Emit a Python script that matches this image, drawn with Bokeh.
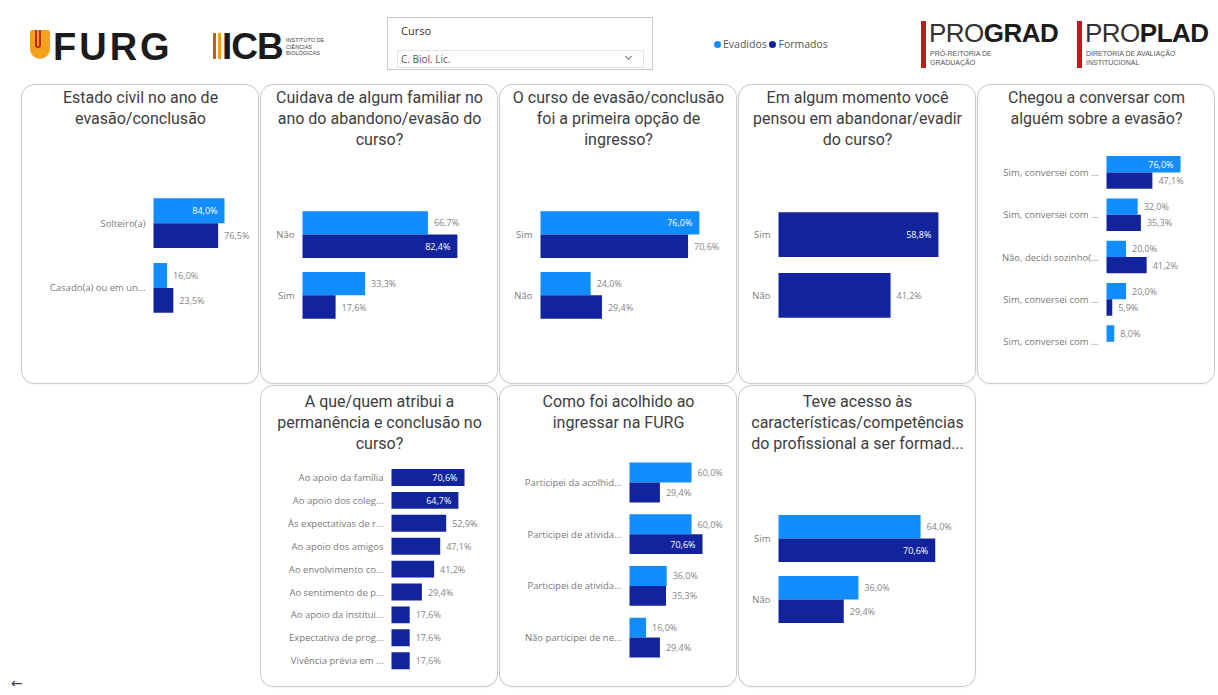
from bokeh.plotting import figure
from bokeh.models import Range1d, Div, Spacer, Title
from bokeh.layouts import row, column
from bokeh.core.properties import value
from bokeh.embed import file_html
from bokeh.resources import INLINE

# ---------------- data ----------------
series_names = ["Evadidos", "Formados"]

p1_title = ["Estado civil no ano de", "evasão/conclusão"]
p1_cats = ["Solteiro(a)", "Casado(a) ou em un..."]
p1_evadidos = [84.0, 16.0]
p1_formados = [76.5, 23.5]

p2_title = ["Cuidava de algum familiar no", "ano do abandono/evasão do", "curso?"]
p2_cats = ["Não", "Sim"]
p2_evadidos = [66.7, 33.3]
p2_formados = [82.4, 17.6]

p3_title = ["O curso de evasão/conclusão", "foi a primeira opção de", "ingresso?"]
p3_cats = ["Sim", "Não"]
p3_evadidos = [76.0, 24.0]
p3_formados = [70.6, 29.4]

p4_title = ["Em algum momento você", "pensou em abandonar/evadir", "do curso?"]
p4_cats = ["Sim", "Não"]
p4_evadidos = None
p4_formados = [58.8, 41.2]

p5_title = ["Chegou a conversar com", "alguém sobre a evasão?"]
p5_cats = ["Sim, conversei com ...", "Sim, conversei com ...", "Não, decidi sozinho(...",
           "Sim, conversei com ...", "Sim, conversei com ..."]
p5_evadidos = [76.0, 32.0, 20.0, 20.0, 8.0]
p5_formados = [47.1, 35.3, 41.2, 5.9, None]

p6_title = ["A que/quem atribui a", "permanência e conclusão no", "curso?"]
p6_cats = ["Ao apoio da família", "Ao apoio dos coleg...", "Às expectativas de r...",
           "Ao apoio dos amigos", "Ao envolvimento co...", "Ao sentimento de p...",
           "Ao apoio da institui...", "Expectativa de prog...", "Vivência prévia em ..."]
p6_evadidos = None
p6_formados = [70.6, 64.7, 52.9, 47.1, 41.2, 29.4, 17.6, 17.6, 17.6]

p7_title = ["Como foi acolhido ao", "ingressar na FURG"]
p7_cats = ["Participei da acolhid...", "Participei de ativida...", "Participei de ativida...",
           "Não participei de ne..."]
p7_evadidos = [60.0, 60.0, 36.0, 16.0]
p7_formados = [29.4, 70.6, 35.3, 29.4]

p8_title = ["Teve acesso às", "características/competências", "do profissional a ser formad..."]
p8_cats = ["Sim", "Não"]
p8_evadidos = [64.0, 36.0]
p8_formados = [70.6, 29.4]

# ---------------- style ----------------
EVA = "#118DFF"
FOR = "#12239E"
PANEL_W = 236
GAP = 3
TOP_H = 298
BOT_H = 300


def fmt(v):
    return f"{v:.1f}".replace(".", ",") + "%"


def make_panel(title_lines, cats, eva, form, h, top_px, left_px, ppp, c1, band, inside_ratio=0.95):
    bottom_px = 6
    w = PANEL_W
    # the frame spans the whole panel width; bars start left_px from the panel edge
    x_start = -left_px / ppp
    x_end = (w - left_px) / ppp
    y_top = -(c1 - top_px) / band
    y_bot = (h - bottom_px - c1) / band
    p = figure(width=w, height=h, output_backend="svg", toolbar_location=None, title=None,
               x_range=Range1d(x_start, x_end), y_range=Range1d(y_bot, y_top),
               min_border_left=0, min_border_right=0,
               min_border_top=top_px, min_border_bottom=bottom_px)
    p.background_fill_color = "white"
    p.border_fill_color = "white"
    p.outline_line_color = None
    p.xgrid.visible = False
    p.ygrid.visible = False
    p.xaxis.visible = False
    p.yaxis.visible = False

    # title: one centred Title per line, padded to three lines
    lines = list(title_lines) + [" "] * (3 - len(title_lines))
    for line in reversed(lines):
        p.add_layout(Title(text=line, align="center", text_font="Roboto",
                           text_font_size="16px", text_font_style="normal",
                           text_color="#3d3d3d", standoff=0, offset=0), "above")

    # category labels, placed through the y scale just left of the bars
    p.text(x=[-8 / ppp] * len(cats), y=list(range(len(cats))), text=cats,
           text_align="right", text_baseline="middle", text_color="#7a7a7a",
           text_font=value("Open Sans"), text_font_size="9.5px")

    series = [(s, c) for s, c in ((eva, EVA), (form, FOR)) if s is not None]
    n_s = len(series)
    bar_h = 0.385 if n_s == 2 else 0.74
    vmax = max(v for s, _ in series for v in s if v is not None)
    for k, (vals, color) in enumerate(series):
        off = (k - (n_s - 1) / 2) * bar_h
        ys = [i + off for i, v in enumerate(vals) if v is not None]
        vs = [v for v in vals if v is not None]
        p.hbar(y=ys, left=0, right=vs, height=bar_h, fill_color=color, line_color=None)
        ins = [(y, v) for y, v in zip(ys, vs) if v >= inside_ratio * vmax]
        outs = [(y, v) for y, v in zip(ys, vs) if v < inside_ratio * vmax]
        if ins:
            p.text(x=[v - 7 / ppp for _, v in ins], y=[y for y, _ in ins],
                   text=[fmt(v) for _, v in ins], text_align="right", text_baseline="middle",
                   text_color="white", text_font=value("Open Sans"), text_font_size="9px")
        if outs:
            p.text(x=[v + 6 / ppp for _, v in outs], y=[y for y, _ in outs],
                   text=[fmt(v) for _, v in outs], text_align="left", text_baseline="middle",
                   text_color="#858585", text_font=value("Open Sans"), text_font_size="9px")
    p.styles = {"border-radius": "13px", "overflow": "hidden",
                "box-shadow": "0 0 0 1px #c9c9c9, 0 1px 3px rgba(0,0,0,0.10)"}
    return p


p1 = make_panel(p1_title, p1_cats, p1_evadidos, p1_formados, TOP_H, 62, 131, 0.845, 137, 65)
p2 = make_panel(p2_title, p2_cats, p2_evadidos, p2_formados, TOP_H, 62, 41, 1.88, 148.5, 61)
p3 = make_panel(p3_title, p3_cats, p3_evadidos, p3_formados, TOP_H, 62, 40, 2.09, 148.5, 61)
p4 = make_panel(p4_title, p4_cats, p4_evadidos, p4_formados, TOP_H, 62, 39, 2.72, 148.5, 61)
p5 = make_panel(p5_title, p5_cats, p5_evadidos, p5_formados, TOP_H, 62, 128, 0.974, 86, 42.5)
p6 = make_panel(p6_title, p6_cats, p6_evadidos, p6_formados, BOT_H, 66, 130, 1.034, 91, 22.9,
                inside_ratio=0.9)
p7 = make_panel(p7_title, p7_cats, p7_evadidos, p7_formados, BOT_H, 66, 129, 1.034, 96, 51.7)
p8 = make_panel(p8_title, p8_cats, p8_evadidos, p8_formados, BOT_H, 66, 39, 2.22, 152, 61)

dot = "display:inline-block;width:7px;height:7px;border-radius:50%;vertical-align:0px;margin-right:2px;"
legend_html = (f'<span style="{dot}background:{EVA};"></span>{series_names[0]} '
               f'<span style="{dot}background:{FOR};"></span>{series_names[1]}')

header_html = f"""
<div style="position:relative;width:1210px;height:85px;font-family:'Liberation Sans',Arial,sans-serif;">
  <div style="position:absolute;left:30px;top:30px;width:20px;height:29px;background:#f4a11c;border-radius:3px 3px 10px 10px;"></div>
  <div style="position:absolute;left:35px;top:30px;width:6px;height:18px;border:2px solid #c0272d;border-top:none;border-radius:0 0 4px 4px;"></div>
  <div style="position:absolute;left:53px;top:28px;font-size:38px;line-height:1;font-weight:bold;color:#1b1b1b;letter-spacing:3px;white-space:nowrap;">FURG</div>
  <div style="position:absolute;left:213px;top:33px;width:3px;height:26px;background:#b5651d;"></div>
  <div style="position:absolute;left:218px;top:33px;width:3px;height:26px;background:#f29b1e;"></div>
  <div style="position:absolute;left:222px;top:28px;font-size:37px;line-height:1;font-weight:bold;color:#1b1b1b;letter-spacing:-1px;white-space:nowrap;">ICB</div>
  <div style="position:absolute;left:286px;top:37px;font-size:5.5px;line-height:6.5px;color:#444;white-space:nowrap;">INSTITUTO DE<br>CIÊNCIAS<br>BIOLÓGICAS</div>
  <div style="position:absolute;left:387px;top:17px;width:266px;height:53px;border:1px solid #c8c8c8;"></div>
  <div style="position:absolute;left:401px;top:24px;font-family:'Open Sans';font-size:11px;line-height:14px;color:#333;">Curso</div>
  <div style="position:absolute;left:397px;top:50px;width:247px;height:18px;border:1px solid #e3e3e3;"></div>
  <div style="position:absolute;left:401px;top:53px;font-family:'Open Sans';font-size:10px;line-height:13px;color:#555;">C. Biol. Lic.</div>
  <div style="position:absolute;left:626px;top:54px;width:5px;height:5px;border-right:1px solid #777;border-bottom:1px solid #777;transform:rotate(45deg);"></div>
  <div style="position:absolute;left:714px;top:37px;font-family:'Open Sans';font-size:10.5px;line-height:14px;color:#555;white-space:nowrap;">{legend_html}</div>
  <div style="position:absolute;left:921px;top:21px;width:5px;height:47px;background:#c4161c;"></div>
  <div style="position:absolute;left:929px;top:20px;font-size:26px;line-height:1;color:#333;letter-spacing:-0.5px;white-space:nowrap;">PRO<b style="color:#1b1b1b">GRAD</b></div>
  <div style="position:absolute;left:930px;top:49px;font-size:7px;line-height:9px;color:#555;white-space:nowrap;">PRÓ-REITORIA DE<br>GRADUAÇÃO</div>
  <div style="position:absolute;left:1077px;top:21px;width:5px;height:47px;background:#c4161c;"></div>
  <div style="position:absolute;left:1085px;top:20px;font-size:26px;line-height:1;color:#333;letter-spacing:-0.5px;white-space:nowrap;">PRO<b style="color:#1b1b1b">PLAD</b></div>
  <div style="position:absolute;left:1086px;top:49px;font-size:7px;line-height:9px;color:#555;white-space:nowrap;">DIRETORIA DE AVALIAÇÃO<br>INSTITUCIONAL</div>
</div>
"""
header = Div(text=header_html, width=1210, height=85, margin=0)

back_html = """
<div style="position:relative;width:258px;height:300px;">
  <div style="position:absolute;left:11px;top:290px;font-family:'DejaVu Sans';font-size:14px;line-height:14px;color:#444;">&#8592;</div>
</div>
"""
back = Div(text=back_html, width=22 + PANEL_W, height=BOT_H, margin=0)

top_row = row(Spacer(width=22 - GAP, height=TOP_H), p1, p2, p3, p4, p5, spacing=GAP)
bottom_row = row(back, p6, p7, p8, spacing=GAP)
layout = column(header, top_row, Spacer(width=10, height=3), bottom_row, spacing=0)

open("out.html", "w").write(file_html(layout, INLINE, "FURG"))
